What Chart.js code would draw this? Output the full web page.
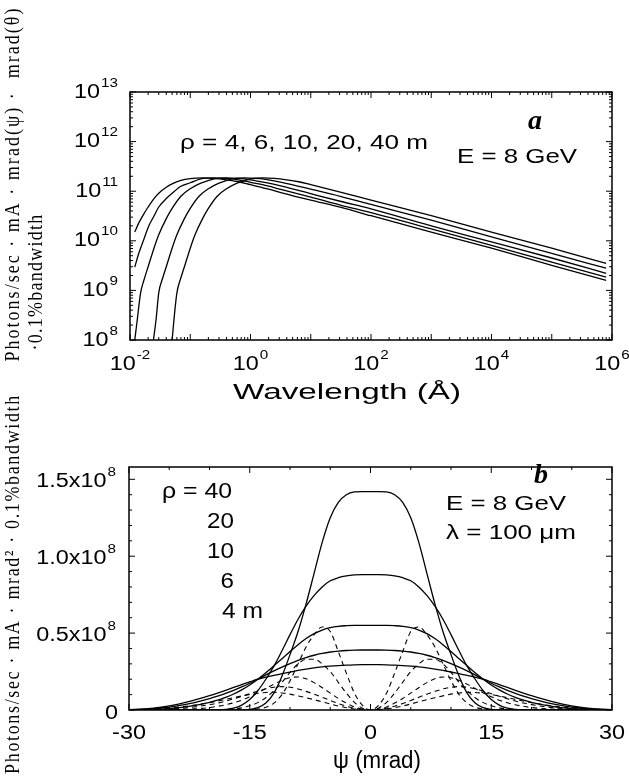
<!DOCTYPE html>
<html>
<head>
<meta charset="utf-8">
<script src="https://cdn.jsdelivr.net/npm/chart.js@4.4.1/dist/chart.umd.min.js"></script>
<style>
  html, body { margin: 0; padding: 0; background: #fff; }
  #wrap { position: relative; width: 629px; height: 780px; }
  #wrap canvas { position: absolute; left: 0; top: 0; }
</style>
</head>
<body>
<div id="wrap">
  <canvas id="chartSpectrum" width="629" height="780"></canvas>
  <canvas id="chartAngle" width="629" height="780"></canvas>
</div>
<script>
// ---- panel a : flux vs wavelength (Å), one curve per bending radius
const wlRho4  = [0.012, 0.014, 0.017, 0.02, 0.025, 0.03, 0.04, 0.05, 0.07, 0.1, 0.16, 0.25, 0.4, 0.63, 1, 2, 3.3, 10, 32, 100, 1e3, 1e4, 1e5, 8e5];
const fxRho4  = [1.5e10, 2.3e10, 3.5e10, 4.8e10, 7.1e10, 9.1e10, 1.2e11, 1.41e11, 1.66e11, 1.8e11, 1.86e11, 1.82e11, 1.7e11, 1.55e11, 1.35e11, 1.1e11, 9.3e10, 6.6e10, 4.7e10, 3.2e10, 1.5e10, 7.1e9, 3.2e9, 1.6e9];
const wlRho6  = [0.012, 0.014, 0.017, 0.02, 0.025, 0.03, 0.04, 0.05, 0.07, 0.1, 0.15, 0.25, 0.4, 0.63, 1, 2, 3.3, 10, 32, 100, 1e3, 1e4, 1e5, 8e5];
const fxRho6  = [2.95e9, 5.6e9, 1.07e10, 1.86e10, 3.16e10, 4.8e10, 7.1e10, 9.1e10, 1.26e11, 1.48e11, 1.78e11, 1.86e11, 1.82e11, 1.7e11, 1.51e11, 1.26e11, 1.07e11, 7.6e10, 5.2e10, 3.7e10, 1.74e10, 8.1e9, 3.7e9, 1.86e9];
const wlRho10 = [0.012, 0.013, 0.015, 0.017, 0.02, 0.025, 0.03, 0.04, 0.05, 0.07, 0.1, 0.15, 0.25, 0.4, 0.63, 1, 2, 3.3, 10, 32, 100, 1e3, 1e4, 1e5, 8e5];
const fxRho10 = [1e8, 2.2e8, 8.9e8, 1.6e9, 3.0e9, 7.1e9, 1.32e10, 2.8e10, 4.5e10, 7.9e10, 1.12e11, 1.45e11, 1.78e11, 1.86e11, 1.82e11, 1.7e11, 1.45e11, 1.26e11, 8.9e10, 6.2e10, 4.4e10, 2.0e10, 9.5e9, 4.5e9, 2.2e9];
const wlRho20 = [0.0245, 0.027, 0.03, 0.035, 0.04, 0.05, 0.06, 0.08, 0.1, 0.14, 0.2, 0.3, 0.5, 0.8, 1.25, 2, 3.3, 10, 32, 100, 1e3, 1e4, 1e5, 8e5];
const fxRho20 = [1e8, 2.5e8, 8.9e8, 1.8e9, 3.0e9, 7.1e9, 1.32e10, 2.8e10, 4.5e10, 7.9e10, 1.12e11, 1.45e11, 1.78e11, 1.86e11, 1.82e11, 1.7e11, 1.51e11, 1.1e11, 7.8e10, 5.4e10, 2.6e10, 1.2e10, 5.6e9, 2.8e9];
const wlRho40 = [0.05, 0.054, 0.06, 0.07, 0.08, 0.1, 0.12, 0.16, 0.2, 0.28, 0.4, 0.6, 1, 1.6, 2.5, 4, 6.3, 10, 32, 100, 1e3, 1e4, 1e5, 8e5];
const fxRho40 = [1e8, 2.8e8, 8.9e8, 1.8e9, 3.0e9, 7.1e9, 1.32e10, 2.8e10, 4.5e10, 7.9e10, 1.12e11, 1.45e11, 1.78e11, 1.86e11, 1.82e11, 1.7e11, 1.55e11, 1.35e11, 9.5e10, 6.6e10, 3.2e10, 1.5e10, 7.1e9, 3.5e9];

const wlTickExp   = [-2, 0, 2, 4, 6];
const fluxTickExp = [8, 9, 10, 11, 12, 13];

// ---- panel b : angular distribution at 100 um, in units of 1e8 (psi >= 0, curves are symmetric)
const psiHalf  = [0, 1, 2, 3, 4, 5, 6, 7, 8, 9, 10, 11, 12, 13, 14, 15, 16, 17, 18, 19, 20, 22, 24, 26, 28, 30];
const solid40  = [1.42, 1.42, 1.418, 1.40, 1.35, 1.25, 1.09, 0.89, 0.69, 0.51, 0.36, 0.22, 0.11, 0.045, 0.015, 0.004, 0.001, 0, 0, 0, 0, 0, 0, 0, 0, 0];
const solid20  = [0.88, 0.88, 0.878, 0.872, 0.86, 0.84, 0.80, 0.745, 0.675, 0.59, 0.49, 0.385, 0.285, 0.2, 0.125, 0.068, 0.032, 0.012, 0.004, 0.001, 0, 0, 0, 0, 0, 0];
const solid10  = [0.55, 0.55, 0.55, 0.548, 0.544, 0.535, 0.52, 0.497, 0.465, 0.425, 0.38, 0.333, 0.287, 0.242, 0.2, 0.163, 0.131, 0.104, 0.082, 0.064, 0.05, 0.028, 0.014, 0.006, 0.002, 0];
const solid6   = [0.39, 0.39, 0.389, 0.387, 0.383, 0.377, 0.368, 0.356, 0.341, 0.323, 0.302, 0.279, 0.254, 0.228, 0.2, 0.174, 0.15, 0.128, 0.108, 0.09, 0.074, 0.047, 0.027, 0.013, 0.005, 0.001];
const solid4   = [0.295, 0.295, 0.294, 0.292, 0.289, 0.285, 0.28, 0.274, 0.266, 0.257, 0.247, 0.236, 0.225, 0.213, 0.2, 0.183, 0.165, 0.147, 0.128, 0.11, 0.093, 0.062, 0.036, 0.018, 0.007, 0.002];
const dashed40 = [0, 0.03, 0.11, 0.24, 0.38, 0.51, 0.54, 0.49, 0.41, 0.3, 0.19, 0.1, 0.045, 0.018, 0.006, 0.002, 0, 0, 0, 0, 0, 0, 0, 0, 0, 0];
const dashed20 = [0, 0.012, 0.05, 0.11, 0.18, 0.25, 0.3, 0.33, 0.33, 0.3, 0.245, 0.18, 0.125, 0.08, 0.048, 0.027, 0.014, 0.007, 0.003, 0.001, 0, 0, 0, 0, 0, 0];
const dashed10 = [0, 0.005, 0.02, 0.045, 0.075, 0.11, 0.145, 0.178, 0.203, 0.215, 0.21, 0.193, 0.168, 0.14, 0.112, 0.086, 0.064, 0.047, 0.034, 0.024, 0.016, 0.007, 0.003, 0.001, 0, 0];
const dashed6  = [0, 0.003, 0.011, 0.025, 0.042, 0.062, 0.083, 0.103, 0.121, 0.137, 0.148, 0.152, 0.148, 0.138, 0.123, 0.106, 0.089, 0.073, 0.058, 0.045, 0.035, 0.019, 0.009, 0.004, 0.001, 0];
const dashed4  = [0, 0.002, 0.007, 0.015, 0.026, 0.039, 0.053, 0.067, 0.08, 0.092, 0.103, 0.111, 0.115, 0.114, 0.109, 0.101, 0.091, 0.08, 0.069, 0.058, 0.048, 0.031, 0.018, 0.009, 0.004, 0.001];

const psiTicks  = [-30, -15, 0, 15, 30];
const angTicks  = [0, 0.5, 1.0, 1.5];

const SANS  = '"Liberation Sans", Arial, Helvetica, sans-serif';
const SERIF = '"Liberation Serif", "Times New Roman", serif';
const HS = 1.17;   // the scanned figure is a little wider than tall

function pairs(xs, ys) { return xs.map((x, i) => ({ x: x, y: ys[i] })); }
function mirrored(half) {
  const pts = [];
  for (let i = psiHalf.length - 1; i > 0; i--) pts.push({ x: -psiHalf[i], y: half[i] });
  for (let i = 0; i < psiHalf.length; i++) pts.push({ x: psiHalf[i], y: half[i] });
  return pts;
}

// text squeezed/stretched horizontally by factor k
function drawK(ctx, s, left, y, font, k) {
  ctx.save();
  ctx.font = font;
  ctx.textAlign = 'left';
  ctx.textBaseline = 'middle';
  ctx.translate(left, y);
  ctx.scale(k, 1);
  ctx.fillText(s, 0, 0);
  ctx.restore();
}
function widthK(ctx, s, font, k) { ctx.font = font; return ctx.measureText(s).width * k; }

// text fitted to a width
function fitText(ctx, s, x, y, font, width, align) {
  ctx.font = font;
  const k = width / ctx.measureText(s).width;
  const left = align === 'center' ? x - width / 2 : align === 'right' ? x - width : x;
  drawK(ctx, s, left, y, font, k);
}

function plainLabel(ctx, s, x, y, align) {
  const f = '20px ' + SANS;
  const w = widthK(ctx, s, f, HS);
  const left = align === 'right' ? x - w : x - w / 2;
  drawK(ctx, s, left, y, f, HS);
}

function powLabel(ctx, base, exp, x, y, align) {
  const fb = '20px ' + SANS, fe = '13px ' + SANS;
  const wb = widthK(ctx, base, fb, HS), we = widthK(ctx, exp, fe, HS);
  const left = align === 'right' ? x - wb - we - 1 : x - (wb + we + 1) / 2;
  drawK(ctx, base, left, y, fb, HS);
  drawK(ctx, exp, left + wb + 1, y - 9, fe, HS);
}

function vText(ctx, text, cx, cy, len, font) {
  ctx.save();
  ctx.translate(cx, cy);
  ctx.rotate(-Math.PI / 2);
  ctx.scale(1, 1.2);
  ctx.font = font;
  ctx.textAlign = 'center';
  ctx.textBaseline = 'middle';
  if ('letterSpacing' in ctx) {
    ctx.letterSpacing = '0px';
    const w = ctx.measureText(text).width;
    ctx.letterSpacing = ((len - w) / text.length).toFixed(2) + 'px';
  }
  ctx.fillText(text, 0, 0);
  ctx.restore();
}

// inward ticks on all four sides
function frameTicks(ctx, a, xs, ys) {
  ctx.lineWidth = 1;
  ctx.beginPath();
  xs.forEach(([p, len]) => {
    ctx.moveTo(p, a.bottom); ctx.lineTo(p, a.bottom - len);
    ctx.moveTo(p, a.top); ctx.lineTo(p, a.top + len);
  });
  ys.forEach(([p, len]) => {
    ctx.moveTo(a.left, p); ctx.lineTo(a.left + len, p);
    ctx.moveTo(a.right, p); ctx.lineTo(a.right - len, p);
  });
  ctx.stroke();
  ctx.lineWidth = 1.5;
  ctx.strokeRect(a.left, a.top, a.right - a.left, a.bottom - a.top);
}

const decorSpectrum = {
  id: 'decorSpectrum',
  afterDraw(chart) {
    const { ctx, chartArea: a } = chart;
    const sx = chart.scales.x, sy = chart.scales.y;
    ctx.save();
    ctx.fillStyle = '#000';
    ctx.strokeStyle = '#000';
    const xs = [], ys = [];
    for (let e = -2; e <= 6; e++) for (let m = 1; m < 10; m++) {
      if (e === 6 && m > 1) break;
      xs.push([sx.getPixelForValue(m * Math.pow(10, e)), m === 1 ? 6 : 3]);
    }
    for (let e = 8; e <= 13; e++) for (let m = 1; m < 10; m++) {
      if (e === 13 && m > 1) break;
      ys.push([sy.getPixelForValue(m * Math.pow(10, e)), m === 1 ? 6 : 3]);
    }
    frameTicks(ctx, a, xs, ys);
    wlTickExp.forEach(e => powLabel(ctx, '10', String(e), sx.getPixelForValue(Math.pow(10, e)), 364, 'center'));
    fluxTickExp.forEach(e => powLabel(ctx, '10', String(e), 118, sy.getPixelForValue(Math.pow(10, e)), 'right'));
    fitText(ctx, 'Wavelength (\u00C5)', 347, 393, '22px ' + SANS, 228, 'center');
    fitText(ctx, '\u03C1 = 4, 6, 10, 20, 40 m', 180, 143, '21px ' + SANS, 248);
    fitText(ctx, 'E = 8 GeV', 457, 157, '21px ' + SANS, 120);
    ctx.font = 'italic bold 28px ' + SERIF;
    ctx.textAlign = 'center'; ctx.textBaseline = 'middle';
    ctx.fillText('a', 535, 122);
    vText(ctx, 'Photons/sec \u00B7 mA \u00B7 mrad(\u03C8) \u00B7  mrad(\u03B8)', 13, 184, 355, '18px ' + SERIF);
    vText(ctx, '\u00B70.1%bandwidth', 36, 282, 137, '18px ' + SERIF);
    ctx.restore();
  }
};

const decorAngle = {
  id: 'decorAngle',
  afterDraw(chart) {
    const { ctx, chartArea: a } = chart;
    const sx = chart.scales.x, sy = chart.scales.y;
    ctx.save();
    ctx.fillStyle = '#000';
    ctx.strokeStyle = '#000';
    const xs = [], ys = [];
    for (let v = -30; v <= 30; v += 5) xs.push([sx.getPixelForValue(v), v % 15 === 0 ? 6 : 3]);
    for (let k = 0; k <= 15; k++) ys.push([sy.getPixelForValue(k / 10), k % 5 === 0 ? 6 : 3]);
    frameTicks(ctx, a, xs, ys);
    psiTicks.forEach(v => plainLabel(ctx, String(v), sx.getPixelForValue(v), 733, 'center'));
    angTicks.forEach(v => {
      const py = sy.getPixelForValue(v);
      if (v === 0) plainLabel(ctx, '0', 118, py + 3, 'right');
      else powLabel(ctx, v.toFixed(1) + 'x10', '8', 116, py + 2, 'right');
    });
    fitText(ctx, '\u03C8 (mrad)', 377, 762, '23px ' + SANS, 88, 'center');
    const f22 = '22px ' + SANS;
    drawK(ctx, '\u03C1 = 40', 162, 492, f22, 1.13);
    const w20 = widthK(ctx, '20', f22, 1.1);
    drawK(ctx, '20', 234 - w20, 522, f22, 1.1);
    drawK(ctx, '10', 234 - w20, 552, f22, 1.1);
    drawK(ctx, '6', 234 - widthK(ctx, '6', f22, 1.1), 582, f22, 1.1);
    drawK(ctx, '4 m', 222, 612, f22, 1.12);
    fitText(ctx, 'E = 8 GeV', 446, 504, '21px ' + SANS, 120);
    fitText(ctx, '\u03BB = 100 \u03BCm', 446, 533, '21px ' + SANS, 130);
    ctx.font = 'italic bold 28px ' + SERIF;
    ctx.textAlign = 'center'; ctx.textBaseline = 'middle';
    ctx.fillText('b', 541, 476);
    vText(ctx, 'Photons/sec \u00B7 mA \u00B7 mrad\u00B2 \u00B7 0.1%bandwidth', 13, 584, 380, '18px ' + SERIF);
    ctx.restore();
  }
};

function lineSet(points, dashed) {
  return {
    data: points,
    borderColor: '#000',
    borderWidth: dashed ? 1.1 : 1.3,
    borderDash: dashed ? [5, 4] : [],
    pointRadius: 0,
    fill: false,
    cubicInterpolationMode: 'monotone'
  };
}

new Chart(document.getElementById('chartSpectrum'), {
  type: 'line',
  data: {
    datasets: [
      lineSet(pairs(wlRho4, fxRho4)),
      lineSet(pairs(wlRho6, fxRho6)),
      lineSet(pairs(wlRho10, fxRho10)),
      lineSet(pairs(wlRho20, fxRho20)),
      lineSet(pairs(wlRho40, fxRho40))
    ]
  },
  options: {
    responsive: false,
    animation: false,
    events: [],
    layout: { padding: { left: 130, right: 17, top: 92, bottom: 440 } },
    plugins: { legend: { display: false }, tooltip: { enabled: false } },
    scales: {
      x: { type: 'logarithmic', min: 1e-2, max: 1e6, display: false },
      y: { type: 'logarithmic', min: 1e8, max: 1e13, display: false }
    }
  },
  plugins: [decorSpectrum]
});

new Chart(document.getElementById('chartAngle'), {
  type: 'line',
  data: {
    datasets: [
      lineSet(mirrored(solid40)),
      lineSet(mirrored(solid20)),
      lineSet(mirrored(solid10)),
      lineSet(mirrored(solid6)),
      lineSet(mirrored(solid4)),
      lineSet(mirrored(dashed40), true),
      lineSet(mirrored(dashed20), true),
      lineSet(mirrored(dashed10), true),
      lineSet(mirrored(dashed6), true),
      lineSet(mirrored(dashed4), true)
    ]
  },
  options: {
    responsive: false,
    animation: false,
    events: [],
    layout: { padding: { left: 129, right: 17, top: 467, bottom: 70 } },
    plugins: { legend: { display: false }, tooltip: { enabled: false } },
    scales: {
      x: { type: 'linear', min: -30, max: 30, display: false },
      y: { type: 'linear', min: 0, max: 1.58, display: false }
    }
  },
  plugins: [decorAngle]
});
</script>
</body>
</html>
